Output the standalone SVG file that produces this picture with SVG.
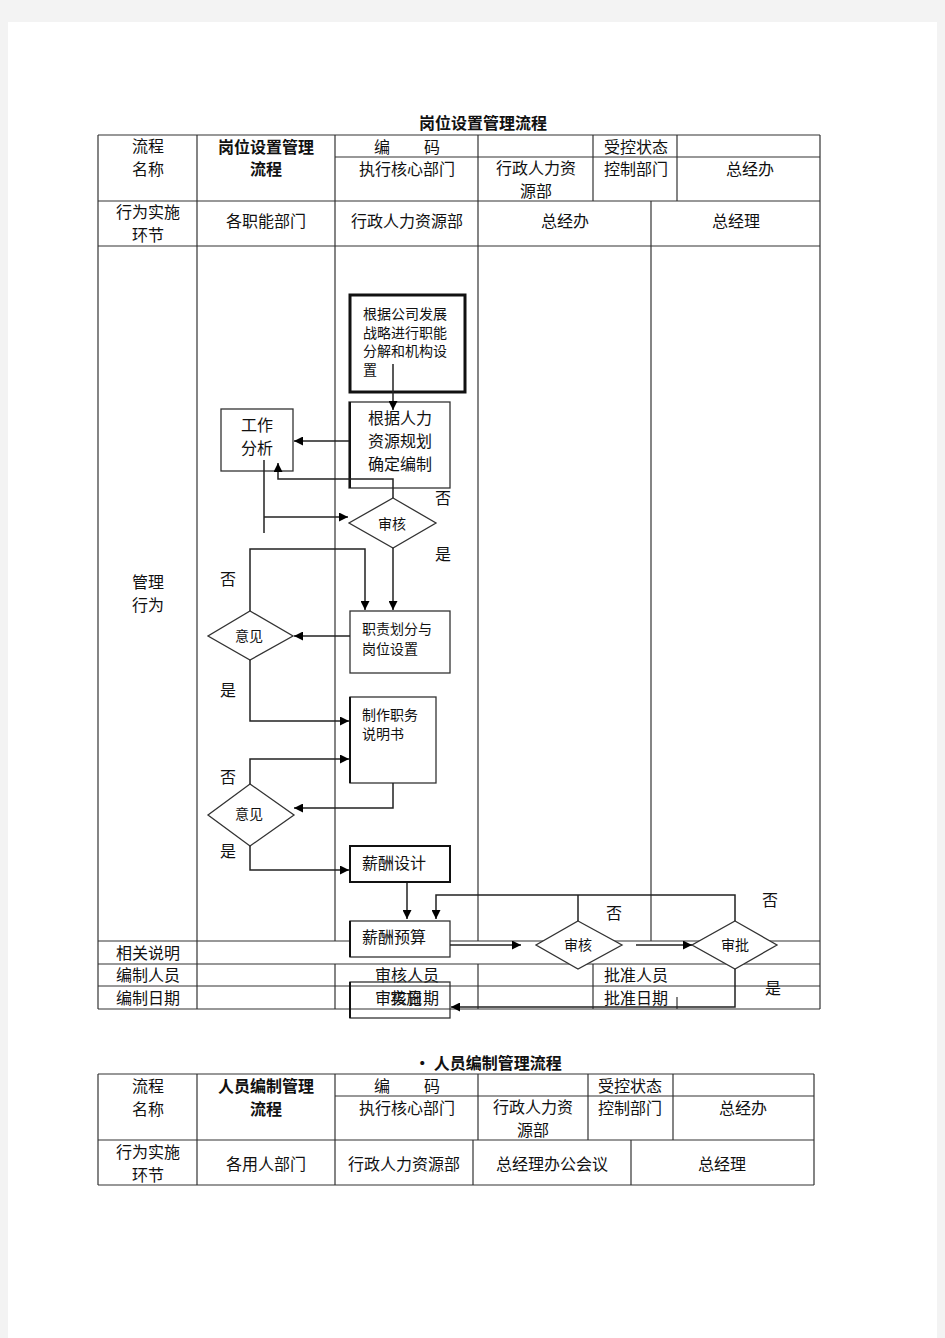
<svg xmlns="http://www.w3.org/2000/svg" width="945" height="1338" viewBox="0 0 945 1338">
<defs>
<style>
text{font-family:"Noto Sans CJK SC","Liberation Sans",sans-serif;fill:#111;dominant-baseline:central}
.t{font-size:16px}
.s{font-size:14px}
.c{text-anchor:middle}
.b{font-weight:bold}
.grid line{stroke:#333;stroke-width:1.2}
.box{fill:#fff;stroke:#333;stroke-width:1.3}
.thick{fill:#fff;stroke:#111;stroke-width:3}
.mid{fill:#fff;stroke:#111;stroke-width:2}
.dia{fill:#fff;stroke:#333;stroke-width:1.3}
.con path{fill:none;stroke:#222;stroke-width:1.5}
</style>
<marker id="ah" markerUnits="userSpaceOnUse" markerWidth="9" markerHeight="9" viewBox="0 0 10 10" refX="10" refY="5" orient="auto">
<path d="M0,0 L10,5 L0,10 z" fill="#000"/>
</marker>
</defs>
<rect x="0" y="0" width="945" height="1338" fill="#f3f3f3"/>
<rect x="8" y="22" width="929" height="1316" fill="#fff"/>

<!-- Table 1 -->
<text class="t c b" x="483" y="122">岗位设置管理流程</text>
<g class="grid">
<line x1="98" y1="135" x2="820" y2="135"/>
<line x1="335" y1="157" x2="820" y2="157"/>
<line x1="98" y1="201" x2="820" y2="201"/>
<line x1="98" y1="246" x2="820" y2="246"/>
<line x1="98" y1="941" x2="820" y2="941"/>
<line x1="98" y1="964" x2="820" y2="964"/>
<line x1="98" y1="986" x2="820" y2="986"/>
<line x1="98" y1="1009" x2="820" y2="1009"/>
<line x1="98" y1="135" x2="98" y2="1009"/>
<line x1="820" y1="135" x2="820" y2="1009"/>
<line x1="197" y1="135" x2="197" y2="1009"/>
<line x1="335" y1="135" x2="335" y2="941"/>
<line x1="335" y1="964" x2="335" y2="1009"/>
<line x1="478" y1="135" x2="478" y2="941"/>
<line x1="478" y1="964" x2="478" y2="1009"/>
<line x1="593" y1="135" x2="593" y2="201"/>
<line x1="593" y1="964" x2="593" y2="1009"/>
<line x1="677" y1="135" x2="677" y2="201"/>
<line x1="677" y1="997" x2="677" y2="1009"/>
<line x1="651" y1="201" x2="651" y2="941"/>
</g>
<g id="header1">
<text class="t c" x="148" y="145">流程</text>
<text class="t c" x="148" y="168">名称</text>
<text class="t c b" x="266" y="146">岗位设置管理</text>
<text class="t c b" x="266" y="168">流程</text>
<text class="t c" x="382" y="146">编</text>
<text class="t c" x="432" y="146">码</text>
<text class="t" x="604" y="146">受控状态</text>
<text class="t c" x="407" y="168">执行核心部门</text>
<text class="t c" x="536" y="167">行政人力资</text>
<text class="t c" x="536" y="190">源部</text>
<text class="t" x="604" y="168">控制部门</text>
<text class="t c" x="750" y="168">总经办</text>
<text class="t c" x="148" y="211">行为实施</text>
<text class="t c" x="148" y="234">环节</text>
<text class="t c" x="266" y="220">各职能部门</text>
<text class="t c" x="407" y="220">行政人力资源部</text>
<text class="t c" x="565" y="220">总经办</text>
<text class="t c" x="736" y="220">总经理</text>
<text class="t c" x="148" y="581">管理</text>
<text class="t c" x="148" y="604">行为</text>
<text class="t c" x="148" y="952">相关说明</text>
<text class="t c" x="148" y="974">编制人员</text>
<text class="t c" x="148" y="997">编制日期</text>
<text class="t" x="375" y="974">审核人员</text>
<text class="t" x="604" y="974">批准人员</text>
<text class="t" x="604" y="997">批准日期</text>
</g>

<!-- Nodes -->
<g id="n1"><rect class="thick" x="350" y="295" width="115" height="97"/>
<text class="s" x="363" y="313">根据公司发展</text>
<text class="s" x="363" y="332">战略进行职能</text>
<text class="s" x="363" y="350">分解和机构设</text>
<text class="s" x="363" y="369">置</text></g>
<g id="n2"><rect class="box" x="349" y="402" width="101" height="86"/>
<line x1="350" y1="402" x2="350" y2="488" stroke="#111" stroke-width="2"/>
<text class="t c" x="400" y="417">根据人力</text>
<text class="t c" x="400" y="440">资源规划</text>
<text class="t c" x="400" y="463">确定编制</text></g>
<g id="n3"><rect class="box" x="221" y="409" width="72" height="62"/>
<text class="t c" x="257" y="424">工作</text>
<text class="t c" x="257" y="447">分析</text></g>
<g id="d1"><polygon class="dia" points="393,498 436,523 393,548 349,523"/>
<text class="s c" x="392" y="523">审核</text></g>
<g id="n4"><rect class="box" x="350" y="611" width="100" height="62"/>
<text class="s" x="362" y="628">职责划分与</text>
<text class="s" x="362" y="648">岗位设置</text></g>
<g id="d2"><polygon class="dia" points="250,611 293,636 250,660 208,636"/>
<text class="s c" x="249" y="635">意见</text></g>
<g id="n5"><rect class="box" x="350" y="697" width="86" height="86"/>
<line x1="350" y1="697" x2="350" y2="783" stroke="#111" stroke-width="2"/>
<text class="s" x="362" y="714">制作职务</text>
<text class="s" x="362" y="733">说明书</text></g>
<g id="d3"><polygon class="dia" points="250,784 294,815 250,846 208,815"/>
<text class="s c" x="249" y="813">意见</text></g>
<g id="n6"><rect class="mid" x="350" y="846" width="100" height="36"/>
<text class="t" x="362" y="862">薪酬设计</text></g>
<g id="n7"><rect class="box" x="350" y="921" width="100" height="36"/>
<line x1="350" y1="921" x2="350" y2="957" stroke="#111" stroke-width="2"/>
<text class="t" x="362" y="936">薪酬预算</text></g>
<g id="d4"><polygon class="dia" points="578,921 622,945 578,969 536,945"/>
<text class="s c" x="578" y="944">审核</text></g>
<g id="d5"><polygon class="dia" points="735,921 777,945 735,969 692,945"/>
<text class="s c" x="735" y="944">审批</text></g>
<g id="n8"><rect class="box" x="350" y="982" width="100" height="36" fill-opacity="0"/>
<line x1="350" y1="982" x2="350" y2="1018" stroke="#111" stroke-width="2"/>
<text class="t" x="375" y="997">审核日期</text>
<text class="t" x="390" y="997">实施</text></g>

<!-- Connectors -->
<g class="con">
<path d="M393,364 V410" marker-end="url(#ah)"/>
<path d="M349,441 H294" marker-end="url(#ah)"/>
<path d="M393,498 V479 H278 V463" marker-end="url(#ah)"/>
<path d="M264,460 V533"/>
<path d="M264,517 H348" marker-end="url(#ah)"/>
<path d="M393,548 V610" marker-end="url(#ah)"/>
<path d="M250,611 V549 H365 V610" marker-end="url(#ah)"/>
<path d="M350,636 H294" marker-end="url(#ah)"/>
<path d="M250,660 V721 H349" marker-end="url(#ah)"/>
<path d="M250,784 V759 H349" marker-end="url(#ah)"/>
<path d="M393,783 V808 H294" marker-end="url(#ah)"/>
<path d="M250,846 V870 H349" marker-end="url(#ah)"/>
<path d="M407,883 V919" marker-end="url(#ah)"/>
<path d="M735,921 V895 H436 V919" marker-end="url(#ah)"/>
<path d="M578,921 V895"/>
<path d="M450,945 H521" stroke-width="2.2" marker-end="url(#ah)"/>
<path d="M636,945 H692" marker-end="url(#ah)"/>
<path d="M735,969 V1007 H451" marker-end="url(#ah)"/>
</g>
<g id="labels">
<text class="t c" x="443" y="497">否</text>
<text class="t c" x="443" y="553">是</text>
<text class="t c" x="228" y="578">否</text>
<text class="t c" x="228" y="689">是</text>
<text class="t c" x="228" y="776">否</text>
<text class="t c" x="228" y="850">是</text>
<text class="t c" x="614" y="912">否</text>
<text class="t c" x="770" y="899">否</text>
<text class="t c" x="773" y="987">是</text>
</g>

<!-- Table 2 -->
<text class="t c b" x="488" y="1062">• 人员编制管理流程</text>
<g class="grid">
<line x1="98" y1="1074" x2="814" y2="1074"/>
<line x1="335" y1="1096" x2="814" y2="1096"/>
<line x1="98" y1="1140" x2="814" y2="1140"/>
<line x1="98" y1="1185" x2="814" y2="1185"/>
<line x1="98" y1="1074" x2="98" y2="1185"/>
<line x1="814" y1="1074" x2="814" y2="1185"/>
<line x1="197" y1="1074" x2="197" y2="1185"/>
<line x1="335" y1="1074" x2="335" y2="1185"/>
<line x1="478" y1="1074" x2="478" y2="1140"/>
<line x1="588" y1="1074" x2="588" y2="1140"/>
<line x1="673" y1="1074" x2="673" y2="1140"/>
<line x1="473" y1="1140" x2="473" y2="1185"/>
<line x1="631" y1="1140" x2="631" y2="1185"/>
</g>
<g id="header2">
<text class="t c" x="148" y="1085">流程</text>
<text class="t c" x="148" y="1108">名称</text>
<text class="t c b" x="266" y="1085">人员编制管理</text>
<text class="t c b" x="266" y="1108">流程</text>
<text class="t c" x="382" y="1085">编</text>
<text class="t c" x="432" y="1085">码</text>
<text class="t c" x="630" y="1085">受控状态</text>
<text class="t c" x="407" y="1107">执行核心部门</text>
<text class="t c" x="533" y="1106">行政人力资</text>
<text class="t c" x="533" y="1129">源部</text>
<text class="t c" x="630" y="1107">控制部门</text>
<text class="t c" x="743" y="1107">总经办</text>
<text class="t c" x="148" y="1151">行为实施</text>
<text class="t c" x="148" y="1174">环节</text>
<text class="t c" x="266" y="1163">各用人部门</text>
<text class="t c" x="404" y="1163">行政人力资源部</text>
<text class="t c" x="552" y="1163">总经理办公会议</text>
<text class="t c" x="722" y="1163">总经理</text>
</g>
</svg>
